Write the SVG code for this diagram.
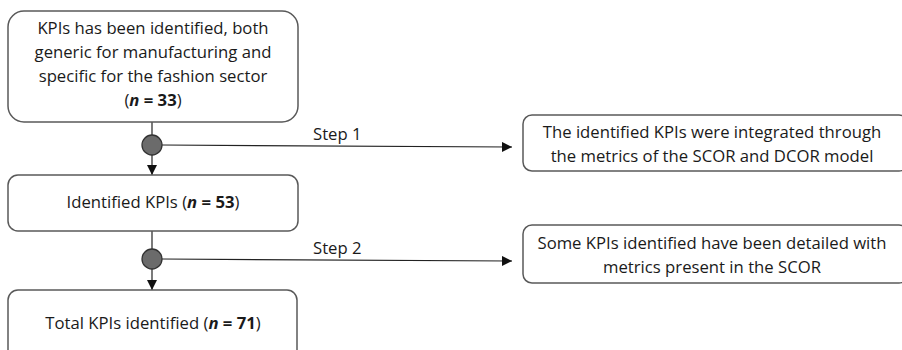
<svg xmlns="http://www.w3.org/2000/svg" width="902" height="350" viewBox="0 0 902 350">
<defs>
<marker id="ah" viewBox="0 0 10 10" refX="10" refY="5" markerWidth="10" markerHeight="10" markerUnits="userSpaceOnUse" orient="auto"><path d="M0,0 L10,5 L0,10 Z" fill="#111"/></marker>
<style>
.box{fill:#fff;stroke:#595959;stroke-width:1.5}
.t{font-family:"Open Sans","Liberation Sans",sans-serif;font-size:16.7px;fill:#1a1a1a;text-anchor:middle}
.l{font-family:"Open Sans","Liberation Sans",sans-serif;font-size:16.7px;fill:#1a1a1a}
.c{stroke:#222;stroke-width:1.2;fill:none}
.dot{fill:#6b6b6b;stroke:#333;stroke-width:1.3}
</style>
</defs>
<g id="connectors">
<line class="c" x1="152" y1="122" x2="152" y2="135"/>
<line class="c" x1="152" y1="155" x2="152" y2="175" marker-end="url(#ah)"/>
<line class="c" x1="162" y1="145" x2="512" y2="147" marker-end="url(#ah)"/>
<line class="c" x1="152" y1="231" x2="152" y2="249"/>
<line class="c" x1="152" y1="269" x2="152" y2="290" marker-end="url(#ah)"/>
<line class="c" x1="162" y1="259" x2="512" y2="261" marker-end="url(#ah)"/>
<circle class="dot" cx="152" cy="145" r="10"/>
<circle class="dot" cx="152" cy="259" r="10"/>
<text class="l" x="313" y="140">Step 1</text>
<text class="l" x="313" y="254">Step 2</text>
</g>
<g id="n1">
<rect class="box" x="8" y="11" width="290" height="111" rx="16"/>
<text class="t" x="153" y="34">KPIs has been identified, both</text>
<text class="t" x="153" y="58">generic for manufacturing and</text>
<text class="t" x="153" y="82">specific for the fashion sector</text>
<text class="t" x="153" y="106">(<tspan font-weight="bold" font-style="italic">n</tspan><tspan font-weight="bold"> = 33</tspan>)</text>
</g>
<g id="n2">
<rect class="box" x="8" y="175" width="290" height="56" rx="10"/>
<text class="t" x="153" y="208">Identified KPIs (<tspan font-weight="bold" font-style="italic">n</tspan><tspan font-weight="bold"> = 53</tspan>)</text>
</g>
<g id="n3">
<rect class="box" x="8" y="290" width="289" height="70" rx="10"/>
<text class="t" x="153" y="329">Total KPIs identified (<tspan font-weight="bold" font-style="italic">n</tspan><tspan font-weight="bold"> = 71</tspan>)</text>
</g>
<g id="n4">
<rect class="box" x="523" y="115" width="385" height="56" rx="9"/>
<text class="t" x="712" y="138">The identified KPIs were integrated through</text>
<text class="t" x="712" y="162">the metrics of the SCOR and DCOR model</text>
</g>
<g id="n5">
<rect class="box" x="523" y="225" width="385" height="58" rx="9"/>
<text class="t" x="712" y="249">Some KPIs identified have been detailed with</text>
<text class="t" x="712" y="273">metrics present in the SCOR</text>
</g>
</svg>
